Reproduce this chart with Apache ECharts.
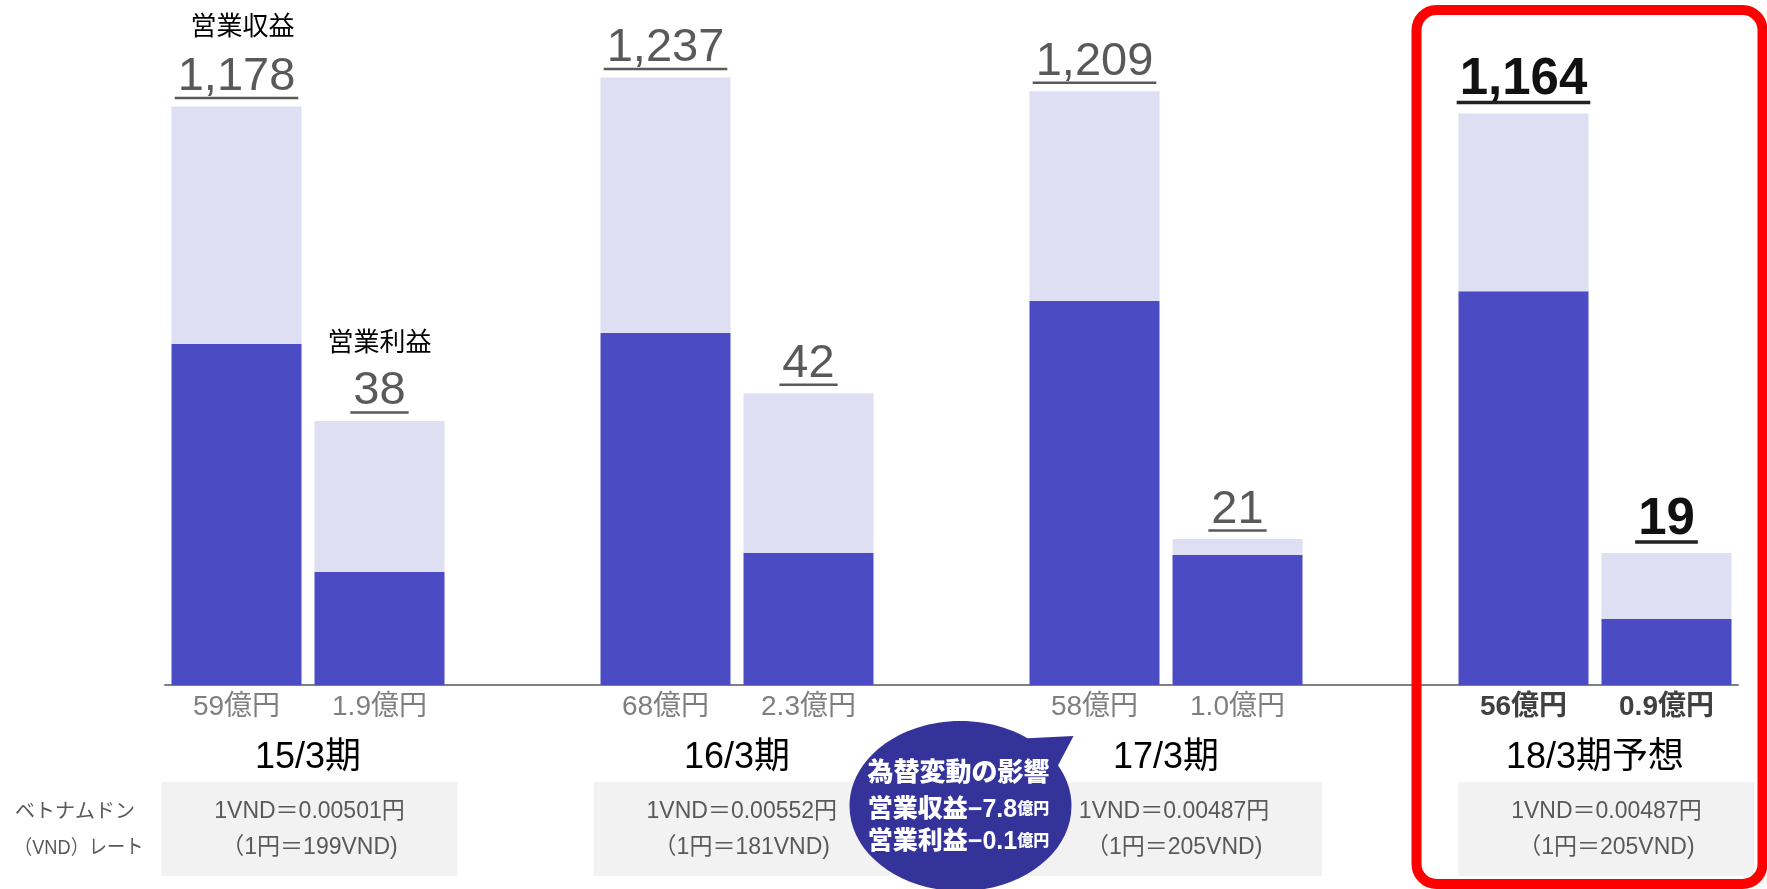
<!DOCTYPE html>
<html><head><meta charset="utf-8">
<script src="https://cdn.jsdelivr.net/npm/echarts@6/dist/echarts.min.js"></script>
<style>html,body{margin:0;padding:0;background:#fff}#c{width:1767px;height:889px}</style>
</head><body><div id="c"></div>
<script>
// ---- data ----
const periods = ['15/3期', '16/3期', '17/3期', '18/3期予想'];
const revenue = [1178, 1237, 1209, 1164];
const revenueDark = [695, 717, 782, 802];
const profit = [38, 42, 21, 19];
const profitDark = [16.3, 19.0, 18.7, 9.5];
const revenueYen = ['59億円', '68億円', '58億円', '56億円'];
const profitYen = ['1.9億円', '2.3億円', '1.0億円', '0.9億円'];
const rateLine1 = ['1VND＝0.00501円', '1VND＝0.00552円', '1VND＝0.00487円', '1VND＝0.00487円'];
const rateLine2 = ['（1円＝199VND)', '（1円＝181VND)', '（1円＝205VND)', '（1円＝205VND)'];
const rateTitle = ['ベトナムドン', '（VND）レート'];
const seriesTitles = ['営業収益', '営業利益'];
const fxTitle = '為替変動の影響';
const fxItems = [['営業収益', '−7.8'], ['営業利益', '−0.1']];
const fxUnit = '億円';
const forecastIndex = 3;

// ---- build slots: rev, prof, gap per period ----
const FONT = "'Liberation Sans','Noto Sans CJK JP',sans-serif";
const slots = [];
periods.forEach((p, i) => {
  slots.push({ p: i, kind: 'rev' });
  slots.push({ p: i, kind: 'prof' });
  if (i < periods.length - 1) slots.push({ p: i, kind: 'gap' });
});
const categories = slots.map((s, k) => periods[s.p] + '_' + s.kind + '_' + k);
const fmt = v => v.toLocaleString('en-US');

function valueLabel(total, isF) {
  return {
    show: true, position: 'top', distance: isF ? 8 : 6,
    fontFamily: FONT, fontSize: isF ? 51 : 47,
    fontWeight: isF ? 'bold' : 'normal',
    color: isF ? '#111111' : '#595959',
    formatter: fmt(total)
  };
}
const revDarkData = slots.map(s => s.kind === 'rev' ? revenueDark[s.p] : null);
const revLightData = slots.map(s => s.kind === 'rev'
  ? { value: revenue[s.p] - revenueDark[s.p], label: valueLabel(revenue[s.p], s.p === forecastIndex) } : null);
const profDarkData = slots.map(s => s.kind === 'prof' ? profitDark[s.p] : null);
const profLightData = slots.map(s => s.kind === 'prof'
  ? { value: profit[s.p] - profitDark[s.p], label: valueLabel(profit[s.p], s.p === forecastIndex) } : null);

const DARK = '#4B4CC3', LIGHT = '#DFDFF4';
const barBase = { type: 'bar', barWidth: 130, barGap: '-100%', animation: false, emphasis: { disabled: true } };

const chart = echarts.init(document.getElementById('c'));
chart.setOption({
  animation: false,
  backgroundColor: '#ffffff',
  grid: { left: 165, right: 29, top: 0, bottom: 204, outerBoundsMode: 'none' },
  xAxis: {
    type: 'category', data: categories,
    axisLine: { lineStyle: { color: '#808080', width: 2 } },
    axisTick: { show: false },
    axisLabel: {
      interval: 0, margin: 8,
      formatter: (v, idx) => {
        const s = slots[idx];
        if (s.kind === 'gap') return '';
        const t = s.kind === 'rev' ? revenueYen[s.p] : profitYen[s.p];
        return s.p === forecastIndex ? '{b|' + t + '}' : '{n|' + t + '}';
      },
      rich: {
        n: { fontFamily: FONT, fontSize: 28, color: '#7f7f7f' },
        b: { fontFamily: FONT, fontSize: 28, fontWeight: 'bold', color: '#404040' }
      }
    }
  },
  yAxis: [
    { type: 'value', min: 0, max: 1395, show: false },
    { type: 'value', min: 0, max: 98.6, show: false }
  ],
  series: [
    Object.assign({}, barBase, { name: '営業収益A', stack: 'rev', yAxisIndex: 0, data: revDarkData, itemStyle: { color: DARK } }),
    Object.assign({}, barBase, { name: '営業収益B', stack: 'rev', yAxisIndex: 0, data: revLightData, itemStyle: { color: LIGHT } }),
    Object.assign({}, barBase, { name: '営業利益A', stack: 'prof', yAxisIndex: 1, data: profDarkData, itemStyle: { color: DARK } }),
    Object.assign({}, barBase, { name: '営業利益B', stack: 'prof', yAxisIndex: 1, data: profLightData, itemStyle: { color: LIGHT } })
  ]
});

// ---- annotations anchored on the chart's own scales ----
const xPx = k => chart.convertToPixel({ xAxisIndex: 0 }, k);
const yRev = v => chart.convertToPixel({ yAxisIndex: 0 }, v);
const yProf = v => chart.convertToPixel({ yAxisIndex: 1 }, v);
const axisY = yRev(0);
const ctx = document.createElement('canvas').getContext('2d');
function textW(t, size, weight) { ctx.font = weight + ' ' + size + 'px "Liberation Sans"'; return ctx.measureText(t).width; }

const g = [];
// underlines
periods.forEach((p, i) => {
  const isF = i === forecastIndex;
  [[3 * i, yRev(revenue[i]), fmt(revenue[i])], [3 * i + 1, yProf(profit[i]), fmt(profit[i])]].forEach(([k, top, t]) => {
    const w = textW(t, isF ? 51 : 47, isF ? 'bold' : 'normal') + 6;
    const x = xPx(k);
    const y = top - (isF ? 11 : 8.5);
    g.push({ type: 'line', shape: { x1: x - w / 2, y1: y, x2: x + w / 2, y2: y },
      style: { stroke: isF ? '#222222' : '#595959', lineWidth: isF ? 3.5 : 2.5 }, z: 10 });
  });
});
// series titles over first group
g.push({ type: 'text', x: xPx(0) + 6, y: yRev(revenue[0]) - 79,
  style: { text: seriesTitles[0], font: '26px ' + FONT, fill: '#000', align: 'center', verticalAlign: 'middle' } });
g.push({ type: 'text', x: xPx(1), y: yProf(profit[0]) - 77,
  style: { text: seriesTitles[1], font: '26px ' + FONT, fill: '#000', align: 'center', verticalAlign: 'middle' } });

// period labels and rate boxes
periods.forEach((p, i) => {
  const cx = (xPx(3 * i) + xPx(3 * i + 1)) / 2;
  g.push({ type: 'text', x: cx, y: axisY + 73,
    style: { text: p, font: '36px ' + FONT, fill: '#000', align: 'center', verticalAlign: 'middle' } });
  const bx = cx + 1.5 + 3.3 * i;
  g.push({ type: 'rect', shape: { x: bx - 148, y: axisY + 97, width: 296, height: 94 }, style: { fill: '#f2f2f2' }, z: 1 });
  g.push({ type: 'text', x: bx, y: axisY + 127,
    style: { text: rateLine1[i], font: '23px ' + FONT, fill: '#595959', align: 'center', verticalAlign: 'middle' }, z: 2 });
  g.push({ type: 'text', x: bx, y: axisY + 163,
    style: { text: rateLine2[i], font: '23px ' + FONT, fill: '#595959', align: 'center', verticalAlign: 'middle' }, z: 2 });
});
// left title of rate rows
g.push({ type: 'text', x: 15, y: axisY + 127,
  style: { text: rateTitle[0], font: '20px ' + FONT, fill: '#595959', align: 'left', verticalAlign: 'middle' } });
g.push({ type: 'text', x: 14, y: axisY + 163, scaleX: 0.91,
  style: { text: rateTitle[1], font: '20px ' + FONT, fill: '#595959', align: 'left', verticalAlign: 'middle' } });

// FX bubble
const bcx = xPx(5) + 9, bcy = axisY + 121;
const NAVY = '#333399';
g.push({ type: 'ellipse', shape: { cx: bcx, cy: bcy, rx: 111, ry: 85 }, style: { fill: NAVY }, z: 20 });
g.push({ type: 'polygon', shape: { points: [[bcx + 52, bcy - 67], [bcx + 113, bcy - 70], [bcx + 93, bcy - 32]] }, style: { fill: NAVY }, z: 20 });
g.push({ type: 'text', x: bcx - 2, y: bcy - 32,
  style: { text: fxTitle, font: '900 26px ' + FONT, fill: '#fff', align: 'center', verticalAlign: 'middle' }, z: 21 });
fxItems.forEach((it, j) => {
  g.push({ type: 'text', x: bcx - 2, y: bcy + 4 + 32 * j,
    style: { text: '{a|' + it[0] + it[1] + '}{u|' + fxUnit + '}', align: 'center', verticalAlign: 'middle',
      rich: { a: { fontFamily: FONT, fontSize: 25, fontWeight: 900, fill: '#fff', color: '#fff' },
              u: { fontFamily: FONT, fontSize: 16, fontWeight: 900, fill: '#fff', color: '#fff' } } }, z: 21 });
});

// red frame around the forecast
g.push({ type: 'rect', shape: { x: xPx(9) - 107, y: 10, width: 346, height: 874, r: 20 },
  style: { fill: 'none', stroke: '#ff0000', lineWidth: 10 }, z: 30 });

chart.setOption({ graphic: g });
</script>
</body></html>
